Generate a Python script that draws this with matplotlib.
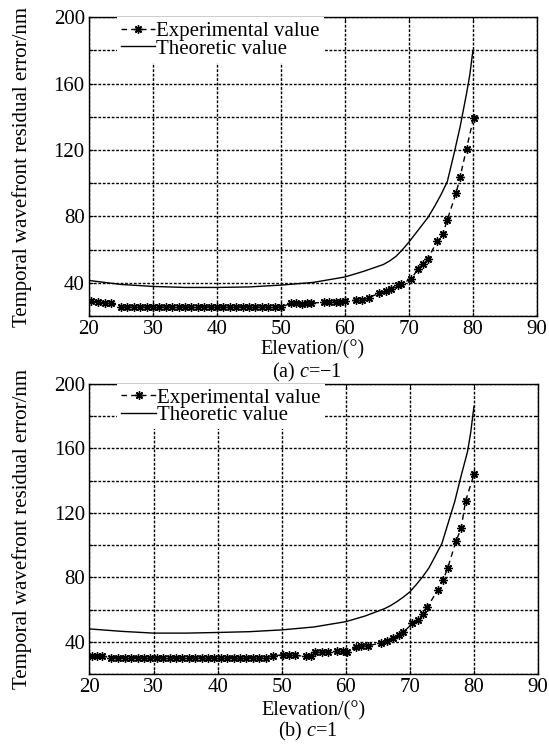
import matplotlib.pyplot as plt

plt.rcParams['font.family'] = ['Liberation Serif', 'DejaVu Serif']
plt.rcParams['mathtext.fontset'] = 'custom'
plt.rcParams['mathtext.rm'] = 'Liberation Serif'
plt.rcParams['mathtext.it'] = 'Liberation Serif:italic'

# (a) c = -1
theo_a_x = [20, 25, 30, 35, 40, 45, 50, 55, 60, 63, 66, 67, 68, 69, 70, 71, 72, 73, 74, 75, 76, 77, 78, 79, 79.5, 80]
theo_a_y = [41.4, 39, 37.8, 37.2, 37.2, 37.5, 38.6, 40.2, 43.5, 47, 51, 53.2, 56, 60, 64.5, 69.5, 74.5, 79.5, 86, 93, 101, 117, 134, 154, 165, 180]
exp_a_x = [20.4, 21.4, 22.5, 23.5,
           25, 26, 27, 28, 29, 30, 31, 32, 33, 34, 35, 36, 37, 38, 39, 40, 41, 42, 43, 44, 45, 46, 47, 48, 49, 50,
           51.6, 52.4, 53.3, 54.1, 54.7, 56.8, 57.5, 58.6, 59.3, 60, 61.7, 62.7, 63.7, 65.4, 66.4, 67.2, 68.3, 68.8,
           70.4, 71.4, 72.2, 73, 74.4, 75.3, 76, 77.4, 78, 79, 80.1]
exp_a_y = [29, 28.4, 28, 28,
           25.4, 25.4, 25.4, 25.4, 25.4, 25.4, 25.4, 25.4, 25.4, 25.4, 25.4, 25.4, 25.4, 25.4, 25.4, 25.4, 25.4, 25.4,
           25.4, 25.4, 25.4, 25.4, 25.4, 25.4, 25.4, 25.4,
           27.6, 27.6, 27.4, 27.6, 27.8, 28.2, 28.4, 28.6, 28.6, 29, 29.4, 29.4, 31, 33.8, 34.8, 36, 38.4, 39.4,
           42.4, 48.4, 51.4, 54.4, 65.4, 69.4, 78, 94.4, 103.8, 120.8, 139.4]

# (b) c = 1
theo_b_x = [20, 25, 30, 35, 40, 45, 50, 55, 60, 63, 66, 67, 68, 69, 70, 71, 72, 73, 74, 75, 76, 77, 78, 79, 79.5, 80]
theo_b_y = [48, 46.5, 45.4, 45.4, 45.8, 46.3, 47.4, 49.2, 52.5, 56, 60.5, 62.5, 65, 67.8, 71, 75.5, 80.4, 86, 93.5, 101, 114, 127, 143, 158, 170, 186]
exp_b_x = [20.4, 21.2, 22,
           23.3, 24.4, 25.5, 26.5, 27.5, 28.5, 29.5, 30.5, 31.5, 32.5, 33.5, 34.5, 35.5, 36.5, 37.5, 38.5, 39.5, 40.5,
           41.5, 42.5, 43.5, 44.5, 45.5, 46.5, 47.5,
           48.7, 50.2, 51.2, 52.1, 53.8, 54.5, 55.2, 56.3, 57.2, 58.6, 59.6, 60.2, 61.6, 62.4, 63.4, 65.5, 66.5, 67.3,
           68.3, 69, 70.4, 71.2, 72, 72.7, 74.4, 75.2, 75.9, 77.2, 78, 78.7, 80]
exp_b_y = [31.4, 31.4, 31.2,
           30.2, 30.2, 30.2, 30.2, 30.2, 30.2, 30.2, 30.2, 30.2, 30.2, 30.2, 30.2, 30.2, 30.2, 30.2, 30.2, 30.2, 30.2,
           30.2, 30.2, 30.2, 30.2, 30.2, 30.2, 30.2,
           31.5, 31.8, 31.6, 31.6, 31, 31.2, 33.6, 33.6, 33.6, 34, 34, 33.8, 36.6, 37.4, 37.4, 39.4, 40.8, 42.4,
           44.4, 46, 51.4, 53.4, 57.4, 61.4, 72.4, 78.4, 85.8, 102.4, 110.4, 127.4, 143.8]

xticks = [20, 30, 40, 50, 60, 70, 80, 90]
yticks = [20, 40, 60, 80, 100, 120, 140, 160, 180, 200]
ytick_labels = ['', '40', '', '80', '', '120', '', '160', '', '200']

ylab = 'Temporal wavefront residual error/nm'
fs = 15

fig = plt.figure(figsize=(5.49, 7.44), dpi=100)
ax1 = fig.add_axes([0.162, 0.5753, 0.816, 0.4015])
ax2 = fig.add_axes([0.163, 0.094, 0.817, 0.390])

panels = [(ax1, theo_a_x, theo_a_y, exp_a_x, exp_a_y, 0.530, 0.500, '(a) $c$=\u22121'),
          (ax2, theo_b_x, theo_b_y, exp_b_x, exp_b_y, 0.045, 0.0165, '(b) $c$=1')]

for ax, tx, ty, ex, ey, xl_y, cap_y, cap in panels:
    ax.plot(ex, ey, color='k', lw=1.0, ls=(0, (4, 3)), marker=(8, 2, 0), ms=6, mew=1.0,
            label='Experimental value', zorder=3)
    ax.plot(tx, ty, color='k', lw=1.0, label='Theoretic value', zorder=3)
    ax.set_xlim(20, 90)
    ax.set_ylim(20, 200)
    ax.set_xticks(xticks)
    ax.set_yticks(yticks)
    ax.set_yticklabels(ytick_labels)
    ax.tick_params(direction='in', top=True, right=True, length=3, labelsize=fs, pad=3)
    ax.grid(True, color='k', ls=(0, (2, 1.2)), lw=1.0)
    for s in ax.spines.values():
        s.set_linewidth(1.0)
    ax.set_ylabel(ylab, fontsize=fs)
    ax.yaxis.set_label_coords(-0.128, 0.5)
    leg = ax.legend(loc='upper left', bbox_to_anchor=(0.062, 1.0), borderaxespad=0, fontsize=fs,
                    frameon=True, fancybox=False, framealpha=1, edgecolor='none', facecolor='white',
                    borderpad=0.2, handlelength=1.65, handletextpad=0.05, labelspacing=-0.1, numpoints=1)
    leg.set_zorder(5)
    x_mid = ax.get_position().x0 + ax.get_position().width / 2
    fig.text(x_mid, xl_y, 'Elevation/(\u00b0)', ha='center', va='center', fontsize=14.5)
    fig.text(x_mid - 0.01, cap_y, cap, ha='center', va='center', fontsize=14.5)

plt.savefig('out.png', dpi=100)
